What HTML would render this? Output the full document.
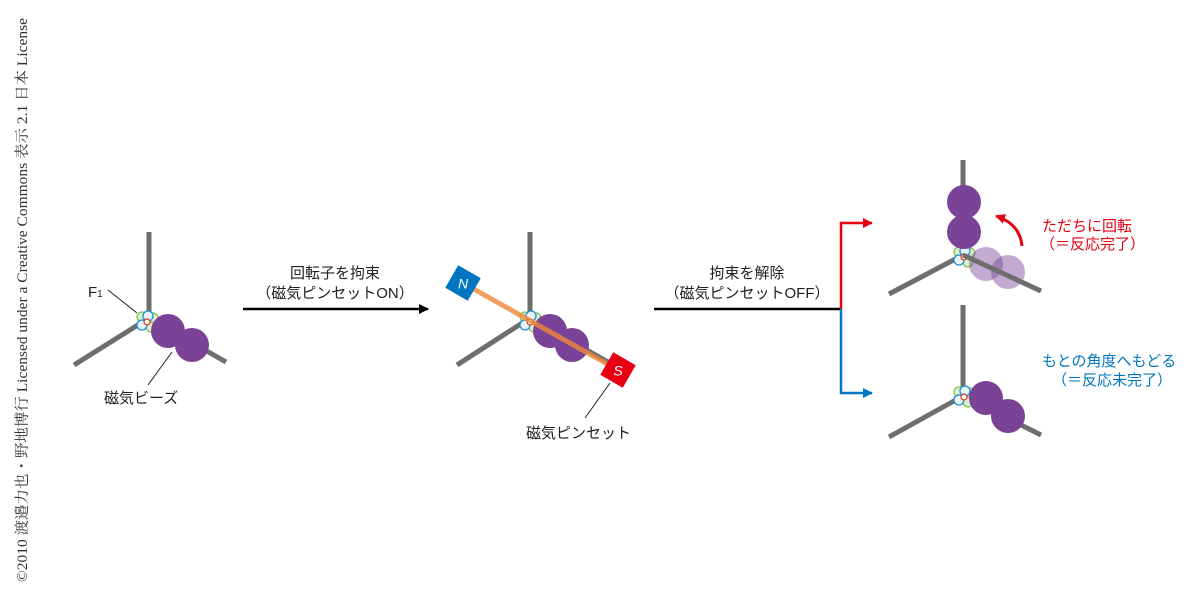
<!DOCTYPE html>
<html><head><meta charset="utf-8"><style>
html,body{margin:0;padding:0;background:#fff;}
svg{display:block;}
text{font-family:"Liberation Sans","Noto Sans CJK JP",sans-serif;}
</style></head><body>
<svg width="1200" height="590" viewBox="0 0 1200 590" xmlns="http://www.w3.org/2000/svg">
<defs>
<g id="f1">
 <circle cx="-5" cy="-5" r="5" fill="#dff0c8" stroke="#7cc04a" stroke-width="1.2"/>
 <circle cx="6" cy="-4" r="5" fill="#dff0c8" stroke="#7cc04a" stroke-width="1.2"/>
 <circle cx="4" cy="5" r="5" fill="#dff0c8" stroke="#7cc04a" stroke-width="1.2"/>
 <circle cx="1" cy="-6" r="5" fill="#e6f3fb" stroke="#1c8fd6" stroke-width="1.3"/>
 <circle cx="-5" cy="3" r="5" fill="#e6f3fb" stroke="#1c8fd6" stroke-width="1.3"/>
 <circle cx="0" cy="0" r="3" fill="#fff" stroke="#e03020" stroke-width="1.2"/>
</g>
<marker id="ak" markerWidth="10" markerHeight="10" refX="9" refY="5" orient="auto" markerUnits="userSpaceOnUse"><path d="M0,0 L10,5 L0,10z" fill="#000"/></marker>
<marker id="ar" markerWidth="10" markerHeight="10" refX="9" refY="5" orient="auto" markerUnits="userSpaceOnUse"><path d="M0,0 L10,5 L0,10z" fill="#e60012"/></marker>
<marker id="ab" markerWidth="10" markerHeight="10" refX="9" refY="5" orient="auto" markerUnits="userSpaceOnUse"><path d="M0,0 L10,5 L0,10z" fill="#0075c2"/></marker>
</defs>

<text transform="translate(27,582) rotate(-90)" style="font-family:'Liberation Serif','Noto Serif CJK SC',serif" font-size="14.5" fill="#333" textLength="564" lengthAdjust="spacingAndGlyphs">©2010 渡邉力也・野地博行 Licensed under a Creative Commons 表示 2.1 日本 License</text>

<!-- group 1 -->
<g stroke="#6e6e6e" stroke-width="5" fill="none">
 <line x1="149" y1="232" x2="149" y2="318"/>
 <line x1="149" y1="318" x2="74" y2="365"/>
 <line x1="149" y1="318" x2="226" y2="362"/>
</g>
<use href="#f1" x="147" y="322"/>
<circle cx="168" cy="331" r="17" fill="#7b4397"/>
<circle cx="192" cy="345" r="17" fill="#7b4397"/>
<line x1="108" y1="290" x2="137" y2="313" stroke="#222" stroke-width="1"/>
<text x="88" y="297" font-size="15" fill="#222">F<tspan font-size="10">1</tspan></text>
<line x1="172" y1="352" x2="148" y2="385" stroke="#222" stroke-width="1"/>
<text x="104" y="403" font-size="15" fill="#222">磁気ビーズ</text>

<!-- arrow 1 -->
<line x1="243" y1="309" x2="428" y2="309" stroke="#000" stroke-width="2.5" marker-end="url(#ak)"/>
<text x="335" y="278" font-size="15" fill="#222" text-anchor="middle">回転子を拘束</text>
<text x="335" y="298" font-size="15" fill="#222" text-anchor="middle">（磁気ピンセットON）</text>

<!-- group 2 -->
<g stroke="#6e6e6e" stroke-width="5" fill="none">
 <line x1="530" y1="232" x2="530" y2="318"/>
 <line x1="530" y1="318" x2="457" y2="365"/>
 <line x1="530" y1="318" x2="608" y2="362"/>
</g>
<use href="#f1" x="530" y="322"/>
<circle cx="550" cy="331" r="17" fill="#7b4397"/>
<circle cx="572" cy="345" r="17" fill="#7b4397"/>
<line x1="463" y1="283" x2="618" y2="370" stroke="#f0883a" stroke-width="5" opacity="0.8"/>
<g transform="translate(463,283) rotate(30)"><rect x="-13" y="-13" width="26" height="26" fill="#0075c2"/><text x="0" y="5.5" font-size="14" fill="#fff" text-anchor="middle" font-style="italic" transform="rotate(-30)">N</text></g>
<g transform="translate(618,370) rotate(30)"><rect x="-13" y="-13" width="26" height="26" fill="#e60012"/><text x="0" y="5.5" font-size="14" fill="#fff" text-anchor="middle" font-style="italic" transform="rotate(-30)">S</text></g>
<line x1="610" y1="383" x2="585" y2="418" stroke="#222" stroke-width="1"/>
<text x="526" y="438" font-size="15" fill="#222">磁気ピンセット</text>

<!-- arrow 2 -->
<line x1="654" y1="309" x2="842" y2="309" stroke="#000" stroke-width="2.5"/>
<text x="747" y="278" font-size="15" fill="#222" text-anchor="middle">拘束を解除</text>
<text x="747" y="298" font-size="15" fill="#222" text-anchor="middle">（磁気ピンセットOFF）</text>
<polyline points="841,309 841,223 872,223" fill="none" stroke="#e60012" stroke-width="2.5" marker-end="url(#ar)"/>
<polyline points="841,309 841,393 872,393" fill="none" stroke="#0075c2" stroke-width="2.5" marker-end="url(#ab)"/>

<!-- group 3 top -->
<g stroke="#6e6e6e" stroke-width="5" fill="none">
 <line x1="963" y1="160" x2="963" y2="255"/>
 <line x1="963" y1="255" x2="889" y2="294"/>
</g>
<use href="#f1" x="964" y="257"/>
<circle cx="986" cy="264" r="17" fill="#7b4397" opacity="0.45"/>
<circle cx="1008" cy="272" r="17" fill="#7b4397" opacity="0.45"/>
<line x1="963" y1="255" x2="1041" y2="291" stroke="#6e6e6e" stroke-width="5"/>
<circle cx="964" cy="202" r="17" fill="#7b4397"/>
<circle cx="964" cy="232" r="17" fill="#7b4397"/>
<path d="M1022,246 Q1020,224 996,216" fill="none" stroke="#e60012" stroke-width="3" marker-end="url(#ar)"/>
<text x="1042" y="231" font-size="15" fill="#e60012">ただちに回転</text>
<text x="1040" y="249" font-size="15" fill="#e60012">（＝反応完了）</text>

<!-- group 3 bottom -->
<g stroke="#6e6e6e" stroke-width="5" fill="none">
 <line x1="963" y1="305" x2="963" y2="396"/>
 <line x1="963" y1="396" x2="889" y2="437"/>
 <line x1="963" y1="396" x2="1041" y2="435"/>
</g>
<use href="#f1" x="964" y="397"/>
<circle cx="986" cy="398" r="17" fill="#7b4397"/>
<circle cx="1008" cy="416" r="17" fill="#7b4397"/>
<text x="1042" y="366" font-size="15" fill="#0075c2">もとの角度へもどる</text>
<text x="1052" y="385" font-size="15" fill="#0075c2">（＝反応未完了）</text>
</svg>
</body></html>
